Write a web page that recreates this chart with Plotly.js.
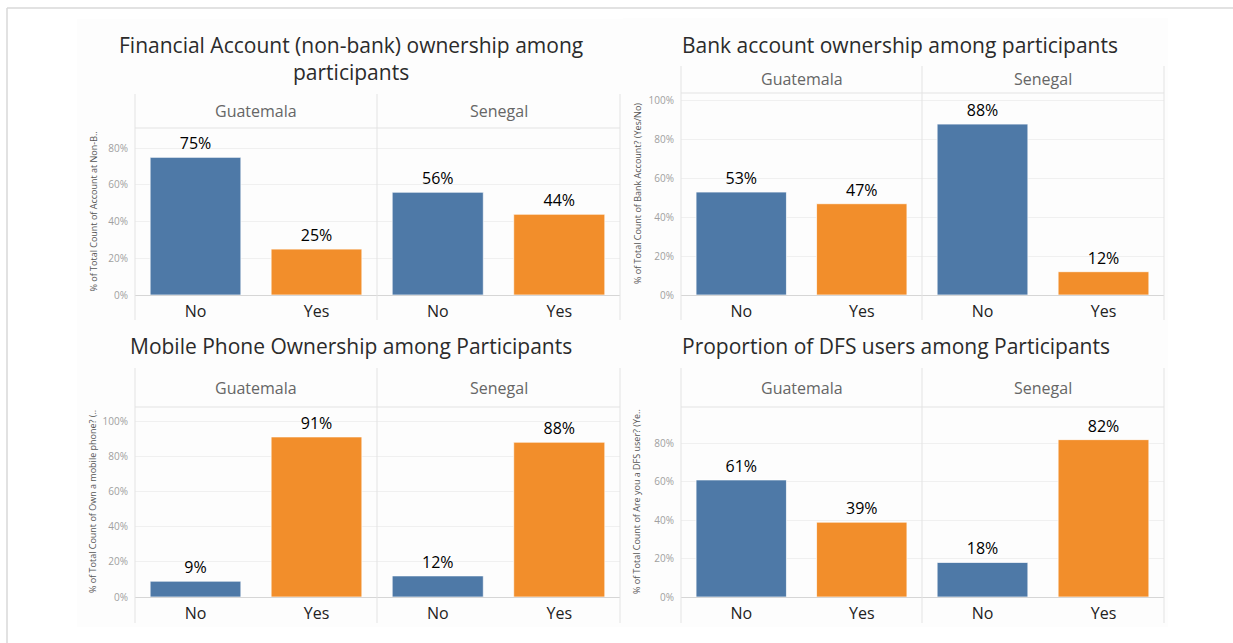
<!DOCTYPE html>
<html>
<head>
<meta charset="utf-8">
<script src="https://cdn.plot.ly/plotly-3.0.1.min.js"></script>
<style>html,body{margin:0;padding:0;background:#fff;}#chart{width:1233px;height:643px;}</style>
</head>
<body>
<div id="chart"></div>
<script>
// ---------- data ----------
const categories = ['No', 'Yes'];
const countries = ['Guatemala', 'Senegal'];
const chartTitles = [
  'Financial Account (non-bank) ownership among<br>participants',
  'Bank account ownership among participants',
  'Mobile Phone Ownership among Participants',
  'Proportion of DFS users among Participants'
];
const yAxisTitles = [
  '% of Total Count of Account at Non-B..',
  '% of Total Count of Bank Account? (Yes/No)',
  '% of Total Count of Own a mobile phone? (..',
  '% of Total Count of Are you a DFS user? (Ye..'
];
const nonBankGuatemala = [75, 25];
const nonBankSenegal = [56, 44];
const bankGuatemala = [53, 47];
const bankSenegal = [88, 12];
const mobileGuatemala = [9, 91];
const mobileSenegal = [12, 88];
const dfsGuatemala = [61, 39];
const dfsSenegal = [18, 82];
const yTickValues = [0, 20, 40, 60, 80, 100];
const yTickLabels = ['0%', '20%', '40%', '60%', '80%', '100%'];

const panelSeries = [
  [nonBankGuatemala, nonBankSenegal],
  [bankGuatemala, bankSenegal],
  [mobileGuatemala, mobileSenegal],
  [dfsGuatemala, dfsSenegal]
];

// ---------- layout geometry (pixels) ----------
const W = 1233, H = 643;
const panels = [
  {x0: 135, xm: 377, x1: 620, top: 94, head: 128, base: 295, bottom: 320, ymax: 91, tx: 351, ty: 59, tanchor: 'center', atx: 93},
  {x0: 681, xm: 922, x1: 1164, top: 66, head: 93, base: 295, bottom: 320, ymax: 104, tx: 680, ty: 45, tanchor: 'left', atx: 637},
  {x0: 135, xm: 377, x1: 620, top: 368, head: 407, base: 597, bottom: 623, ymax: 108, tx: 351, ty: 346, tanchor: 'center', atx: 93},
  {x0: 681, xm: 922, x1: 1164, top: 368, head: 407, base: 597, bottom: 623, ymax: 99, tx: 680, ty: 346, tanchor: 'left', atx: 637}
];
const px = v => v / W;
const py = v => 1 - v / H;

const BLUE = '#4e79a7', ORANGE = '#f28e2b';
const FONT = '"Open Sans", "Noto Sans", sans-serif';
const frameColor = '#e3e3e3';

const traces = [];
const layout = {
  width: W, height: H,
  margin: {l: 0, r: 0, t: 0, b: 0},
  paper_bgcolor: '#ffffff',
  plot_bgcolor: 'rgba(0,0,0,0)',
  showlegend: false,
  bargap: 0.25,
  font: {family: FONT, color: '#333'},
  annotations: [],
  shapes: []
};

// outer border
layout.shapes.push({type: 'line', xref: 'paper', yref: 'paper', x0: px(7), x1: 1, y0: py(8), y1: py(8), line: {color: '#d9d9d9', width: 1.5}});
layout.shapes.push({type: 'line', xref: 'paper', yref: 'paper', x0: px(7), x1: px(7), y0: py(8), y1: 0, line: {color: '#d9d9d9', width: 1.5}});

panels.forEach((p, pi) => {
  // faint worksheet background
  layout.shapes.push({type: 'rect', xref: 'paper', yref: 'paper', layer: 'below',
    x0: px(p.x0 - 58), x1: px(p.x1 + 4), y0: py(p.bottom + 4), y1: py(p.top - (pi === 0 ? 75 : 48)),
    fillcolor: '#fdfdfd', line: {width: 0}});

  // title
  layout.annotations.push({text: chartTitles[pi], xref: 'paper', yref: 'paper',
    x: px(p.tx), y: py(p.ty), xanchor: p.tanchor, yanchor: 'middle', align: 'center', showarrow: false,
    font: {size: 21, color: '#2b2b2b', family: FONT}});

  // y axis title
  layout.annotations.push({text: yAxisTitles[pi], xref: 'paper', yref: 'paper',
    x: px(p.atx), y: py((p.head + p.base) / 2), xanchor: 'center', yanchor: 'middle', textangle: -90, showarrow: false,
    font: {size: 9, color: '#555', family: FONT}});

  // frame lines
  [p.x0, p.xm, p.x1].forEach(xv => {
    layout.shapes.push({type: 'line', xref: 'paper', yref: 'paper', x0: px(xv), x1: px(xv), y0: py(p.top), y1: py(p.bottom), line: {color: frameColor, width: 1}});
  });
  layout.shapes.push({type: 'line', xref: 'paper', yref: 'paper', x0: px(p.x0), x1: px(p.x1), y0: py(p.head), y1: py(p.head), line: {color: frameColor, width: 1}});

  countries.forEach((c, fi) => {
    const idx = pi * 2 + fi + 1;
    const xa = 'xaxis' + idx, ya = 'yaxis' + idx;
    const fx0 = fi === 0 ? p.x0 : p.xm, fx1 = fi === 0 ? p.xm : p.x1;
    const vals = panelSeries[pi][fi];
    traces.push({
      type: 'bar', x: categories, y: vals,
      xaxis: 'x' + idx, yaxis: 'y' + idx,
      marker: {color: [BLUE, ORANGE], line: {color: 'rgba(255,255,255,0.7)', width: 1}},
      text: vals.map(v => v + '%'), textposition: 'outside', cliponaxis: false,
      textfont: {size: 16, color: '#000', family: FONT},
      hoverinfo: 'skip'
    });
    layout[xa] = {
      domain: [px(fx0), px(fx1)], anchor: 'y' + idx,
      showgrid: false, zeroline: false, showline: true, linecolor: '#d6d6d6', linewidth: 1,
      ticks: '', tickfont: {size: 16, color: '#222', family: FONT}, ticklabelstandoff: 2,
      fixedrange: true
    };
    layout[ya] = {
      domain: [py(p.base), py(p.head)], anchor: 'x' + idx,
      range: [0, p.ymax], tickvals: yTickValues, ticktext: yTickLabels,
      showticklabels: fi === 0, ticks: '', ticklabelstandoff: 6,
      tickfont: {size: 10, color: '#a0a0a0', family: FONT},
      showgrid: true, gridcolor: '#f0f0f0', gridwidth: 1, zeroline: false, showline: false,
      fixedrange: true
    };
    // facet header
    layout.annotations.push({text: c, xref: 'paper', yref: 'paper',
      x: px((fx0 + fx1) / 2), y: py((p.top + p.head) / 2), xanchor: 'center', yanchor: 'middle', showarrow: false,
      font: {size: 16, color: '#666', family: FONT}});
  });
});

Plotly.newPlot('chart', traces, layout, {staticPlot: true, displayModeBar: false});
</script>
</body>
</html>
